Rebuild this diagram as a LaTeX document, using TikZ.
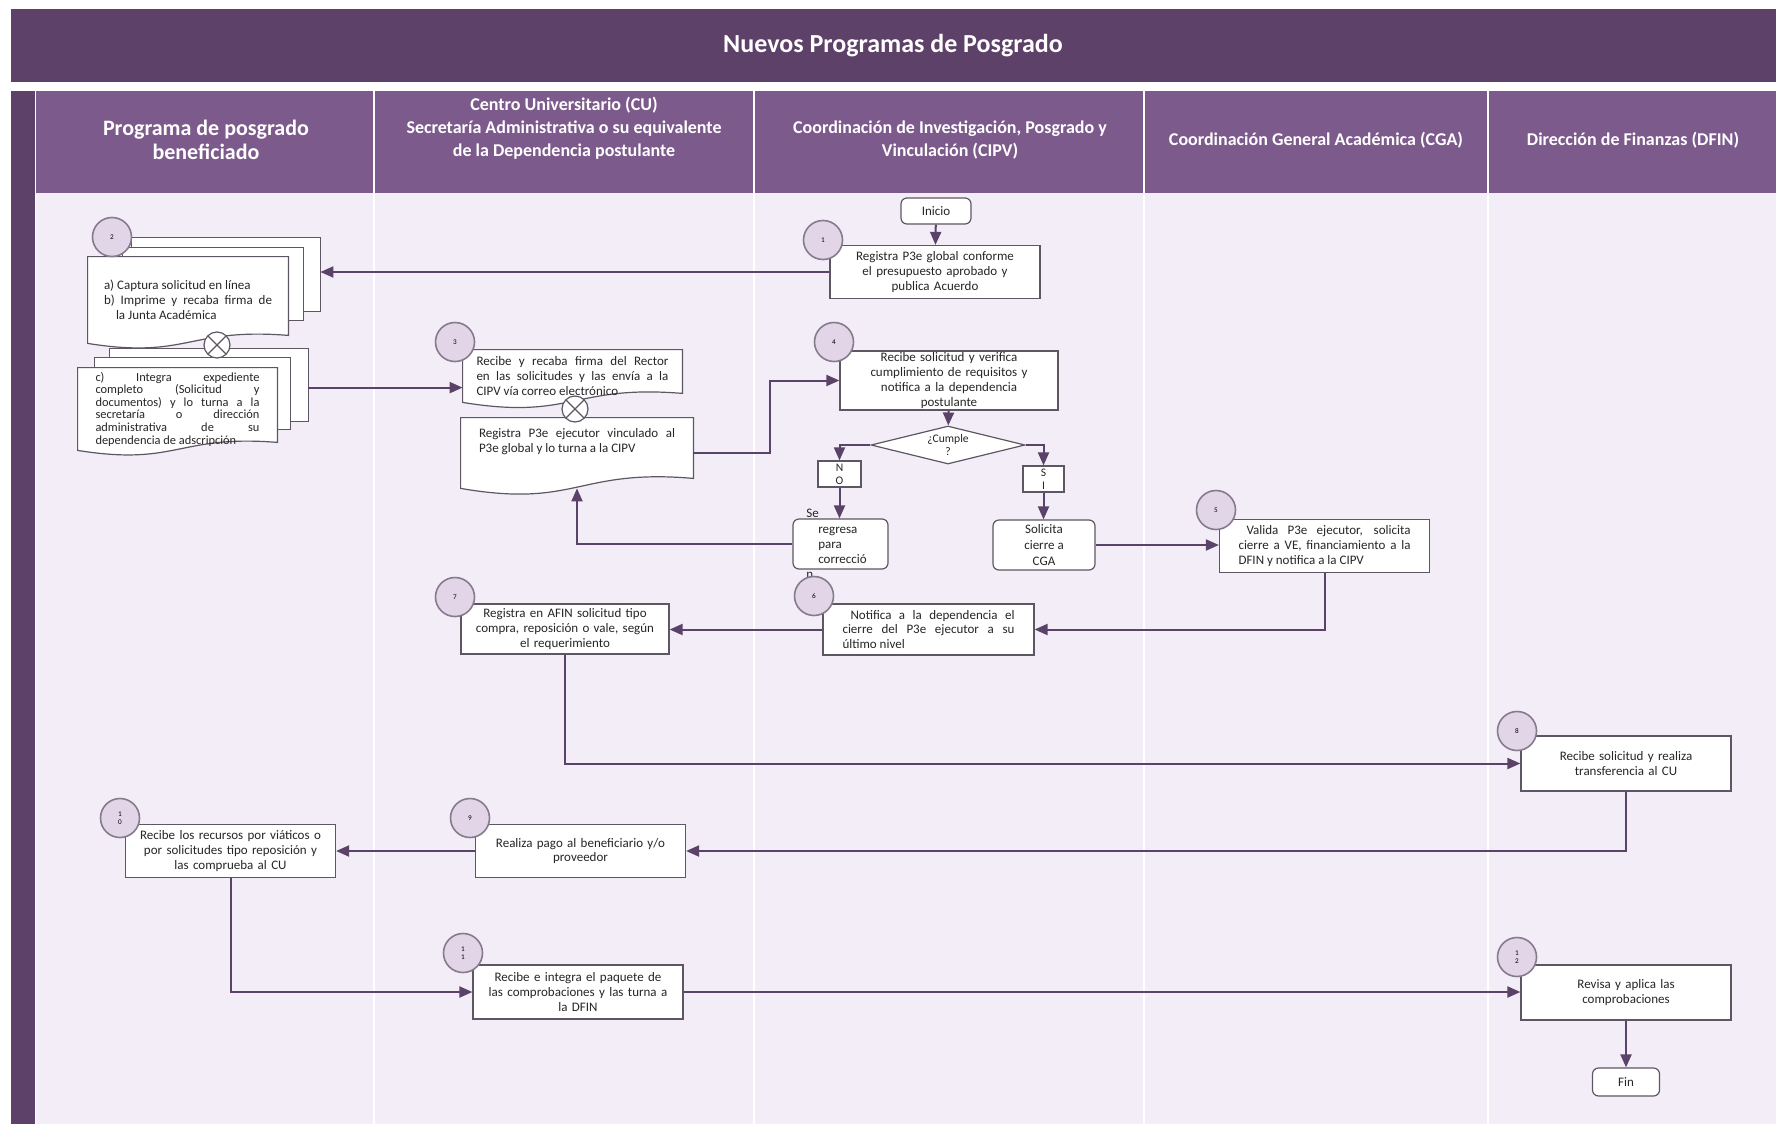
\documentclass[tikz,border=0pt]{standalone}
\usepackage{fontspec}
\setmainfont{Carlito}
\usetikzlibrary{arrows.meta,calc,shapes.geometric}

\definecolor{titlepurple}{HTML}{5D4168}
\definecolor{headpurple}{HTML}{7D5A8C}
\definecolor{lanebg}{HTML}{F2EDF6}
\definecolor{flowpurple}{HTML}{5A4268}
\definecolor{boxgray}{HTML}{5E5763}
\definecolor{numfill}{HTML}{E2D5E8}
\definecolor{numgray}{HTML}{867B8C}

\pgfdeclarelayer{lanes}
\pgfdeclarelayer{paper}
\pgfsetlayers{lanes,paper,main}

\newcommand\stepfont{\fontsize{6.5}{7.4}\selectfont}

% wavy outline of a document node
\newcommand\docoutline[2]{%
    (#1.north west) -- (#1.north east) -- ($(#1.south east)+(0,-#2)$)
    .. controls ($(#1.south)+(0,-2*#2)$) and ($(#1.south)+(0,2*#2)$) .. (#1.south west) -- cycle}

\tikzset{
    flow/.style={draw=flowpurple, line width=1pt, -{Triangle[length=6.5pt,width=5.5pt]}},
    stepbox/.style={rectangle, draw=boxgray, fill=white, line width=0.6pt,
        minimum width=105pt, minimum height=26.5pt, text width=96pt,
        inner sep=1pt, font=\stepfont, text=black!85, align=center},
    justbox/.style={stepbox, text width=86pt, align=justify},
    docbox/.style={rectangle, inner sep=1pt, font=\stepfont, text=black!85, align=justify},
    paperpage/.style={draw=boxgray, fill=white, line width=0.6pt},
    stepnum/.style={circle, draw=numgray, fill=numfill, line width=0.8pt,
        minimum size=19.5pt, inner sep=0pt, font=\fontsize{3.6}{3.9}\selectfont, align=center},
    endbox/.style={rectangle, rounded corners=3pt, draw=boxgray, fill=white, line width=0.6pt,
        minimum width=35pt, minimum height=13pt, inner sep=1pt, font=\stepfont, text=black!85, align=center},
    choice/.style={diamond, aspect=4, draw=boxgray, fill=white, line width=0.6pt,
        minimum width=77pt, minimum height=19pt, inner sep=0pt,
        font=\fontsize{5.8}{6.4}\selectfont, text=black!85, align=center},
    merge/.style={circle, draw=boxgray, fill=white, line width=0.6pt, minimum size=13pt, inner sep=0pt,
        path picture={\draw[boxgray, line width=0.6pt]
            (path picture bounding box.north west) -- (path picture bounding box.south east)
            (path picture bounding box.north east) -- (path picture bounding box.south west);}},
    lanehead/.style={text=white, font=\bfseries\fontsize{9}{11.5}\selectfont, align=center}
}

\begin{document}
\begin{tikzpicture}[x=0.5pt, y=-0.5pt]
        \useasboundingbox (0,0) rectangle (1776,1124);

        % Bands and lanes
        \begin{pgfonlayer}{lanes}
            \fill[white] (0,0) rectangle (1776,1124);
            \fill[titlepurple] (11,9) rectangle (1776,82);
            \fill[titlepurple] (11,91) rectangle (35,1124);
            \fill[headpurple] (36,91) rectangle (1776,193);
            \fill[lanebg] (36,193) rectangle (1776,1124);
            \foreach \x in {374,754,1144,1488}
                \draw[white, line width=1.2pt] (\x,91) -- (\x,1124);
        \end{pgfonlayer}

        % Title and lane headers
        \node[text=white, font=\bfseries\fontsize{13}{15}\selectfont] (title) at (893,46) {Nuevos Programas de Posgrado};
        \node[lanehead, font=\bfseries\fontsize{11}{12.2}\selectfont] (h1) at (206,140) {Programa de posgrado\\beneficiado};
        \node[lanehead] (h2) at (564,128) {Centro Universitario (CU)\\Secretaría Administrativa o su equivalente\\de la Dependencia postulante};
        \node[lanehead] (h3) at (950,140) {Coordinación de Investigación, Posgrado y\\Vinculación (CIPV)};
        \node[lanehead] (h4) at (1316,140) {Coordinación General Académica (CGA)};
        \node[lanehead] (h5) at (1633,140) {Dirección de Finanzas (DFIN)};

        % Steps 1 to 4
        \node[endbox] (inicio) at (936,211) {Inicio};
        \node[stepbox] (p1) at (935,272) {Registra P3e global conforme\\el presupuesto aprobado y\\publica Acuerdo};
        \node[docbox, minimum width=100pt, minimum height=43pt, text width=84pt] (doc2a) at (188,300)
            {a) Captura solicitud en línea\\b) Imprime y recaba firma de\linebreak\hspace*{6pt}la Junta Académica};
        \node[docbox, minimum width=99.5pt, minimum height=41pt, text width=82pt, font=\fontsize{6.2}{6.3}\selectfont] (doc2b) at (177.5,409)
            {\hangindent=5.5pt\hangafter=1 c) Integra expediente\linebreak completo (Solicitud y\linebreak documentos) y lo turna a la\linebreak secretaría o dirección\linebreak administrativa de su\linebreak dependencia de adscripción};
        \node[docbox, minimum width=109.5pt, minimum height=26pt, text width=96pt] (p3) at (572.5,376)
            {Recibe y recaba firma del Rector\linebreak en las solicitudes y las envía a la\linebreak CIPV vía correo electrónico};
        \node[docbox, minimum width=116pt, minimum height=35pt, text width=98pt] (p3b) at (577,453)
            {Registra P3e ejecutor vinculado al\linebreak P3e global y lo turna a la CIPV\\[5pt]};
        \node[stepbox, minimum width=109pt, minimum height=29.5pt, inner sep=0pt] (p4) at (949,380.5)
            {Recibe solicitud y verifica\\cumplimiento de requisitos y\\notifica a la dependencia\\postulante};

        % Paper outlines behind the documents
        \begin{pgfonlayer}{paper}
            \draw[paperpage] ($(doc2a.north west)+(44,-19)$) rectangle ($(doc2a.north east)+(32,55)$);
            \draw[paperpage] ($(doc2a.north west)+(35,-9)$) rectangle ($(doc2a.north east)+(15,64)$);
            \draw[paperpage] \docoutline{doc2a}{8};
            \draw[paperpage] ($(doc2b.north west)+(32,-19)$) rectangle ($(doc2b.north east)+(31,54)$);
            \draw[paperpage] ($(doc2b.north west)+(17,-10)$) rectangle ($(doc2b.north east)+(13,62)$);
            \draw[paperpage] \docoutline{doc2b}{8};
            \draw[paperpage] \docoutline{p3}{9};
            \draw[paperpage] \docoutline{p3b}{10};
        \end{pgfonlayer}
        \coordinate (doc2a in) at ($(doc2a.north east)+(32,15)$);
        \coordinate (doc2b out) at ($(doc2b.north east)+(31,20)$);
        \node[merge] (m1) at (217,345) {};
        \node[merge] (m2) at (575,409) {};

        % Decision
        \node[choice] (dec) at (948,445) {¿Cumple\\?};
        \node[stepbox, minimum width=21.5pt, minimum height=13pt, text width=15pt, inner sep=0.5pt,
            font=\fontsize{5.8}{6.4}\selectfont] (no) at (839.5,474) {N\\O};
        \node[stepbox, minimum width=20.5pt, minimum height=13pt, text width=15pt, inner sep=0.5pt,
            font=\fontsize{5.8}{6.4}\selectfont] (si) at (1043.5,479) {S\\I};
        \node[endbox, minimum width=47.5pt, minimum height=25pt,
            label={[font=\fontsize{6.5}{7.6}\selectfont, text=black!85, align=left, xshift=-2pt]center:{Se\\\hspace*{6pt}regresa\\\hspace*{6pt}para\\\hspace*{6pt}correcció\\n}}] (regresa) at (840.5,544) {};
        \node[endbox, minimum width=51pt, minimum height=25pt, font=\fontsize{6.5}{7.8}\selectfont] (solicita) at (1044,545) {Solicita\\cierre a\\CGA};

        % Steps 5 to 12
        \node[justbox] (p5) at (1324.5,546) {\hspace*{4pt}Valida P3e ejecutor, solicita\linebreak cierre a VE, financiamiento a la\linebreak DFIN y notifica a la CIPV};
        \node[justbox, minimum width=105.5pt, minimum height=25.5pt] (p6) at (928.5,629.5) {\hspace*{4pt}Notifica a la dependencia el\linebreak cierre del P3e ejecutor a su\linebreak último nivel};
        \node[stepbox, minimum width=104pt, minimum height=25pt] (p7) at (565,629) {Registra en AFIN solicitud tipo\\compra, reposición o vale, según\\el requerimiento};
        \node[stepbox, minimum height=27.5pt] (p8) at (1626,763.5) {Recibe solicitud y realiza\\transferencia al CU};
        \node[stepbox] (p9) at (580.5,851) {Realiza pago al beneficiario y/o\\proveedor};
        \node[stepbox] (p10) at (230.5,851) {Recibe los recursos por viáticos o\\por solicitudes tipo reposición y\\las comprueba al CU};
        \node[stepbox, minimum height=27pt] (p11) at (578,992) {Recibe e integra el\ paquete de\\las comprobaciones y las turna a\\la DFIN};
        \node[stepbox, minimum height=27.5pt] (p12) at (1626,992.5) {Revisa y aplica las\\comprobaciones};
        \node[endbox, minimum width=33.5pt, minimum height=14pt] (fin) at (1626,1082) {Fin};

        % Step numbers
        \node[stepnum] (n1) at (823,240) {1};
        \node[stepnum] (n2) at (112,237) {2};
        \node[stepnum] (n3) at (455,342) {3};
        \node[stepnum] (n4) at (834,342) {4};
        \node[stepnum] (n5) at (1216,510) {5};
        \node[stepnum] (n6) at (814,596) {6};
        \node[stepnum] (n7) at (455,597) {7};
        \node[stepnum] (n8) at (1517,731) {8};
        \node[stepnum] (n9) at (470,818) {9};
        \node[stepnum] (n10) at (120,818) {1\\0};
        \node[stepnum] (n11) at (463,953) {1\\1};
        \node[stepnum] (n12) at (1517,957) {1\\2};

        % Connectors
        \draw[flow] (inicio) -- (p1);
        \draw[flow] (p1.west) -- (p1.west -| doc2a in);
        \draw[flow] (doc2b out) -- (doc2b out -| p3.west);
        \draw[flow] (p3b.east) -- ++(77,0) |- (p4.west);
        \draw[flow] (p4) -- (dec);
        \draw[flow] (dec.west) -| (no.north);
        \draw[flow] (dec.east) -| (si.north);
        \draw[flow] (no.south) -- (no.south |- regresa.north);
        \draw[flow] (si.south) -- (si.south |- solicita.north);
        \draw[flow] (regresa.west) -| (p3b.south);
        \draw[flow] (solicita.east) -- (solicita.east -| p5.west);
        \draw[flow] (p5.south) |- (p6.east);
        \draw[flow] (p6.west) -- (p6.west -| p7.east);
        \draw[flow] (p7.south) |- (p8.west);
        \draw[flow] (p8.south) |- (p9.east);
        \draw[flow] (p9.west) -- (p9.west -| p10.east);
        \draw[flow] (p10.south) |- (p11.west);
        \draw[flow] (p11.east) -- (p11.east -| p12.west);
        \draw[flow] (p12) -- (fin);
\end{tikzpicture}
\end{document}
